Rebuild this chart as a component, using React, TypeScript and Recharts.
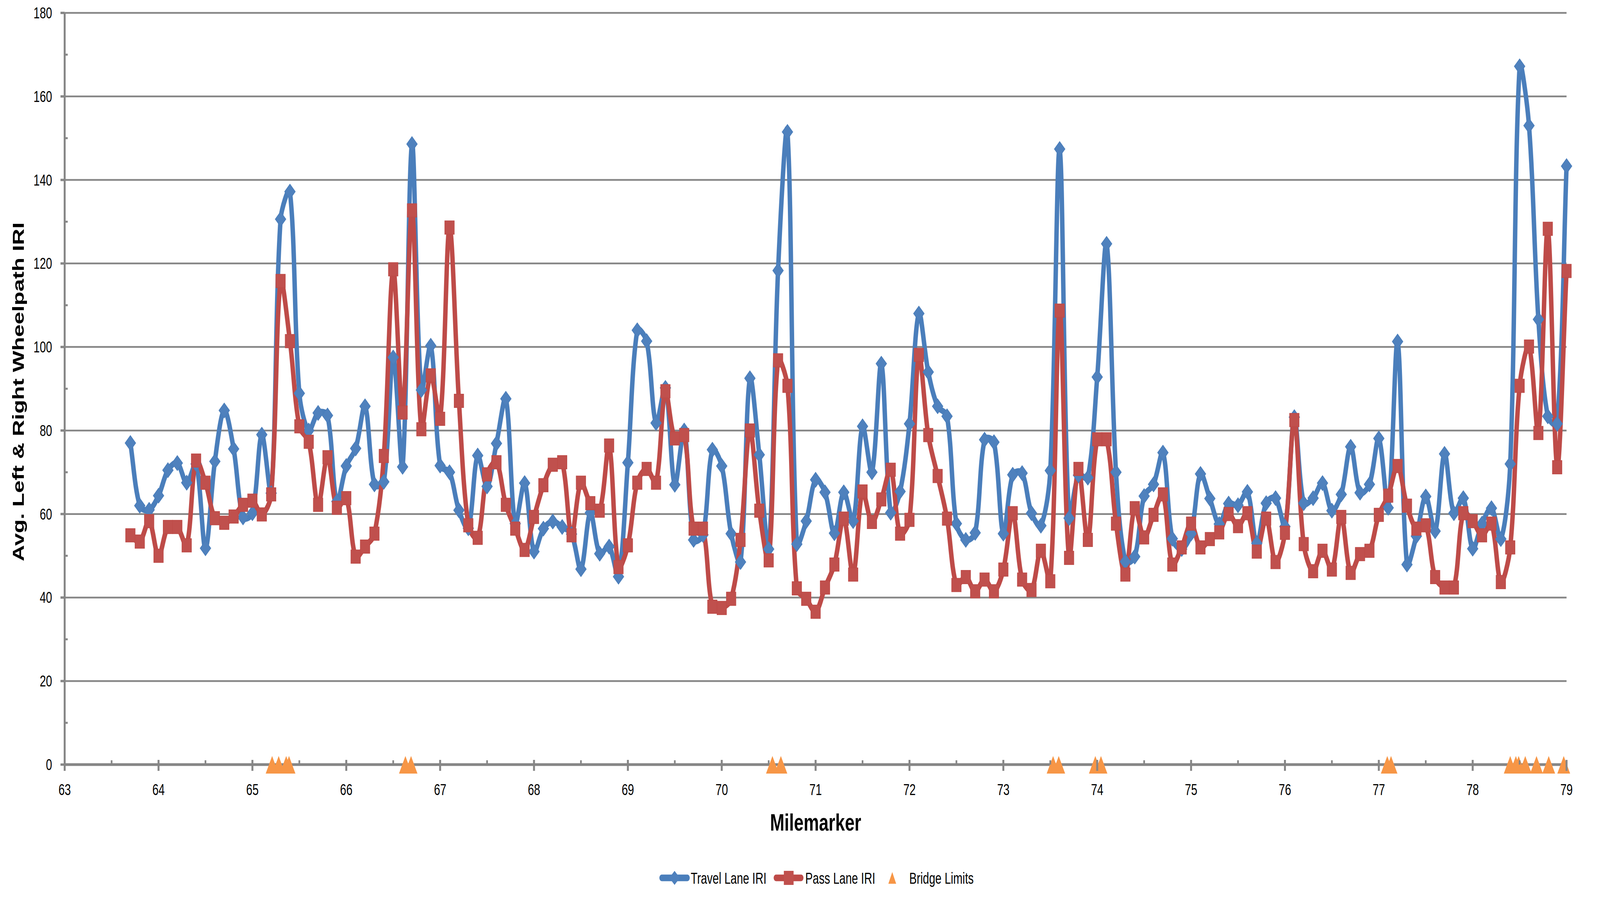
import {
  ComposedChart,
  Line,
  Scatter,
  XAxis,
  YAxis,
  CartesianGrid,
  Label,
} from "recharts";

// milemarker of each reading (every 0.1 mi)
const miles = [
  63.7, 63.8, 63.9, 64.0, 64.1, 64.2, 64.3, 64.4, 64.5, 64.6,
  64.7, 64.8, 64.9, 65.0, 65.1, 65.2, 65.3, 65.4, 65.5, 65.6,
  65.7, 65.8, 65.9, 66.0, 66.1, 66.2, 66.3, 66.4, 66.5, 66.6,
  66.7, 66.8, 66.9, 67.0, 67.1, 67.2, 67.3, 67.4, 67.5, 67.6,
  67.7, 67.8, 67.9, 68.0, 68.1, 68.2, 68.3, 68.4, 68.5, 68.6,
  68.7, 68.8, 68.9, 69.0, 69.1, 69.2, 69.3, 69.4, 69.5, 69.6,
  69.7, 69.8, 69.9, 70.0, 70.1, 70.2, 70.3, 70.4, 70.5, 70.6,
  70.7, 70.8, 70.9, 71.0, 71.1, 71.2, 71.3, 71.4, 71.5, 71.6,
  71.7, 71.8, 71.9, 72.0, 72.1, 72.2, 72.3, 72.4, 72.5, 72.6,
  72.7, 72.8, 72.9, 73.0, 73.1, 73.2, 73.3, 73.4, 73.5, 73.6,
  73.7, 73.8, 73.9, 74.0, 74.1, 74.2, 74.3, 74.4, 74.5, 74.6,
  74.7, 74.8, 74.9, 75.0, 75.1, 75.2, 75.3, 75.4, 75.5, 75.6,
  75.7, 75.8, 75.9, 76.0, 76.1, 76.2, 76.3, 76.4, 76.5, 76.6,
  76.7, 76.8, 76.9, 77.0, 77.1, 77.2, 77.3, 77.4, 77.5, 77.6,
  77.7, 77.8, 77.9, 78.0, 78.1, 78.2, 78.3, 78.4, 78.5, 78.6,
  78.7, 78.8, 78.9, 79.0,
];

const travelLaneIri = [
  77.0, 62.0, 61.0, 64.4, 70.5, 72.2, 67.5, 72.0, 51.8, 72.6,
  84.8, 75.6, 59.2, 60.2, 79.0, 65.0, 130.6, 137.2, 88.9, 80.0,
  84.2, 83.6, 63.0, 71.5, 75.7, 85.8, 67.1, 67.7, 97.5, 71.3,
  148.6, 89.7, 100.3, 71.6, 70.0, 60.9, 56.6, 74.0, 66.6, 76.9,
  87.6, 57.7, 67.4, 51.0, 56.5, 58.2, 56.9, 55.2, 46.8, 60.3,
  50.5, 52.2, 45.0, 72.3, 104.0, 101.4, 81.8, 90.2, 67.0, 80.0,
  53.8, 55.0, 75.4, 71.5, 55.3, 48.5, 92.5, 74.2, 51.6, 118.3,
  151.5, 52.8, 58.3, 68.2, 65.2, 55.4, 65.2, 58.3, 81.0, 70.0,
  96.0, 60.3, 65.4, 81.6, 108.0, 94.0, 85.8, 83.4, 57.7, 53.8,
  55.5, 77.8, 77.2, 55.3, 69.4, 69.8, 60.2, 57.2, 70.4, 147.4,
  59.0, 69.3, 68.7, 92.8, 124.7, 70.0, 48.6, 49.8, 64.3, 67.1,
  74.7, 54.1, 51.6, 55.3, 69.6, 63.7, 57.6, 62.5, 62.1, 65.3,
  53.0, 62.6, 63.8, 57.0, 83.2, 62.6, 63.8, 67.4, 60.8, 64.7,
  76.1, 65.1, 67.1, 78.1, 61.5, 101.3, 47.9, 54.7, 64.2, 55.9,
  74.4, 60.2, 63.8, 51.7, 57.7, 61.4, 54.0, 72.0, 167.2, 153.0,
  106.6, 83.4, 81.6, 143.3,
];

const passLaneIri = [
  54.9, 53.4, 58.3, 50.0, 56.9, 56.9, 52.5, 72.8, 67.5, 59.0,
  57.9, 59.4, 62.2, 63.2, 59.9, 64.7, 115.8, 101.4, 81.0, 77.3,
  62.2, 73.6, 61.5, 63.8, 49.8, 52.2, 55.3, 73.9, 118.6, 84.3,
  132.7, 80.3, 93.2, 82.8, 128.6, 87.1, 57.3, 54.3, 69.5, 72.4,
  62.2, 56.5, 51.4, 59.3, 66.9, 71.8, 72.4, 54.9, 67.5, 62.6,
  60.8, 76.4, 47.3, 52.5, 67.5, 70.8, 67.5, 89.4, 78.1, 78.9,
  56.5, 56.5, 37.8, 37.5, 39.7, 53.8, 80.0, 60.8, 48.9, 96.8,
  90.7, 42.2, 39.7, 36.6, 42.4, 47.9, 58.9, 45.5, 65.4, 58.1,
  63.5, 70.6, 55.3, 58.6, 98.1, 78.9, 69.1, 58.9, 43.0, 44.9,
  41.5, 44.3, 41.5, 46.7, 60.2, 44.3, 41.8, 51.2, 43.9, 108.7,
  49.5, 70.8, 53.8, 77.9, 77.9, 57.7, 45.5, 61.4, 54.4, 59.8,
  64.7, 47.9, 52.0, 57.7, 52.0, 54.0, 55.6, 60.0, 57.1, 60.2,
  51.0, 58.9, 48.5, 55.5, 82.5, 52.8, 46.3, 51.2, 46.7, 59.3,
  45.9, 50.4, 51.2, 59.8, 64.4, 71.5, 62.0, 56.5, 57.3, 44.9,
  42.4, 42.4, 60.2, 58.3, 54.9, 57.7, 43.7, 52.0, 90.7, 100.1,
  79.4, 128.3, 71.2, 118.2,
];

// bridge begin/end milemarkers, plotted on the zero line
const bridgeLimits = [
  65.21, 65.28, 65.36, 65.39, 66.63, 66.69, 70.54, 70.63, 73.53, 73.59,
  73.98, 74.04, 77.09, 77.13, 78.4, 78.46, 78.49, 78.56, 78.68, 78.81,
  78.97,
];

const xTicks = [
  63, 63.5, 64, 64.5, 65, 65.5, 66, 66.5, 67, 67.5, 68, 68.5, 69, 69.5,
  70, 70.5, 71, 71.5, 72, 72.5, 73, 73.5, 74, 74.5, 75, 75.5, 76, 76.5,
  77, 77.5, 78, 78.5, 79,
];
const yTicks = [0, 10, 20, 30, 40, 50, 60, 70, 80, 90, 100, 110, 120, 130, 140, 150, 160, 170, 180];
const gridValues = [20, 40, 60, 80, 100, 120, 140, 160, 180];

const travelData = miles.map((mile, i) => ({ mile, iri: travelLaneIri[i] }));
const passData = miles.map((mile, i) => ({ mile, iri: passLaneIri[i] }));
const bridgeData = bridgeLimits.map((mile) => ({ mile, iri: 0 }));

const W = 5740;
const H = 2342;

const BLUE = "#4A7EBB";
const BLUE_FILL = "#4F81BD";
const RED = "#BE4B48";
const RED_FILL = "#C0504D";
const ORANGE = "#F79646";
const AXIS = "#868686";
const FONT = "'Liberation Sans', Arial, sans-serif";

// Excel-style smoothed line: cardinal bezier with tangents scaled by chord length
const excelSmooth = (context: any) => {
  let pts: number[][] = [];
  const dist = (a: number[], b: number[]) => Math.hypot(b[0] - a[0], b[1] - a[1]);
  return {
    areaStart() {},
    areaEnd() {},
    lineStart() {
      pts = [];
    },
    point(x: number, y: number) {
      pts.push([+x, +y]);
    },
    lineEnd() {
      if (!pts.length) return;
      context.moveTo(pts[0][0], pts[0][1]);
      for (let i = 0; i < pts.length - 1; i++) {
        const p0 = pts[i - 1] || pts[i];
        const p1 = pts[i];
        const p2 = pts[i + 1];
        const p3 = pts[i + 2] || p2;
        const d01 = dist(p0, p1);
        const d12 = dist(p1, p2);
        const d23 = dist(p2, p3);
        const f1 = d01 + d12 > 0 ? d12 / (3 * (d01 + d12)) : 0;
        const f2 = d12 + d23 > 0 ? d12 / (3 * (d12 + d23)) : 0;
        context.bezierCurveTo(
          p1[0] + (p2[0] - p0[0]) * f1,
          p1[1] + (p2[1] - p0[1]) * f1,
          p2[0] - (p3[0] - p1[0]) * f2,
          p2[1] - (p3[1] - p1[1]) * f2,
          p2[0],
          p2[1]
        );
      }
    },
  };
};

const diamondDot = (props: any) => {
  const { cx, cy, index } = props;
  if (cx == null || cy == null) return <g key={`td-${index}`} />;
  const r = 19;
  return (
    <polygon
      key={`td-${index}`}
      points={`${cx},${cy - r} ${cx + r},${cy} ${cx},${cy + r} ${cx - r},${cy}`}
      fill={BLUE_FILL}
      stroke={BLUE}
      strokeWidth={2}
    />
  );
};

const squareDot = (props: any) => {
  const { cx, cy, index } = props;
  if (cx == null || cy == null) return <g key={`ps-${index}`} />;
  const h = 17;
  return (
    <rect
      key={`ps-${index}`}
      x={cx - h}
      y={cy - h}
      width={h * 2}
      height={h * 2}
      fill={RED_FILL}
      stroke={RED}
      strokeWidth={2}
    />
  );
};

const triangleShape = (props: any) => {
  const { cx, cy } = props;
  return (
    <polygon
      points={`${cx},${cy - 22} ${cx + 23},${cy + 23} ${cx - 23},${cy + 23}`}
      fill={ORANGE}
    />
  );
};

const XTick = (props: any) => {
  const { x, y, payload } = props;
  const v = payload.value;
  const major = Math.abs(v - Math.round(v)) < 1e-6;
  if (!major) {
    return <line x1={x} x2={x} y1={y - 11} y2={y} stroke={AXIS} strokeWidth={6} />;
  }
  return (
    <g>
      <line x1={x} x2={x} y1={y - 12} y2={y + 16} stroke={AXIS} strokeWidth={7} />
      <text x={x} y={y + 78} textAnchor="middle" fontSize={40} fontFamily={FONT} fill="#000">
        {v}
      </text>
    </g>
  );
};

const YTick = (props: any) => {
  const { x, y, payload } = props;
  const v = payload.value;
  if (v % 20 !== 0) {
    return <line x1={x} x2={x + 11} y1={y} y2={y} stroke={AXIS} strokeWidth={5} />;
  }
  return (
    <g>
      <line x1={x - 15} x2={x} y1={y} y2={y} stroke={AXIS} strokeWidth={6} />
      <text x={x - 45} y={y + 14} textAnchor="end" fontSize={40} fontFamily={FONT} fill="#000">
        {v}
      </text>
    </g>
  );
};

const Legend = () => (
  <svg
    width={W}
    height={H}
    style={{ position: "absolute", left: 0, top: 0, pointerEvents: "none" }}
  >
    <g fontFamily={FONT} fontSize={40} fill="#000">
      <line x1={2374} x2={2466} y1={2247} y2={2247} stroke={BLUE} strokeWidth={17} strokeLinecap="round" />
      <polygon points="2420,2229 2439,2247 2420,2265 2401,2247" fill={BLUE_FILL} />
      <text x={2478} y={2262}>Travel Lane IRI</text>

      <line x1={2784} x2={2874} y1={2247} y2={2247} stroke={RED} strokeWidth={17} strokeLinecap="round" />
      <rect x={2812} y={2229} width={35} height={36} fill={RED_FILL} />
      <text x={2889} y={2262}>Pass Lane IRI</text>

      <polygon points="3201,2232 3215,2262 3187,2262" fill={ORANGE} />
      <text x={3262} y={2262}>Bridge Limits</text>
    </g>
  </svg>
);

export default function App() {
  // the browser may give a narrower window than the chart; squeeze it to fit
  const sx = Math.min(1, window.innerWidth / W);
  const sy = Math.min(1, window.innerHeight / H);
  return (
    <div
      style={{
        position: "fixed",
        left: 0,
        top: 0,
        width: "100vw",
        height: "100vh",
        overflow: "hidden",
        background: "#fff",
      }}
    >
      <div
        style={{
          position: "absolute",
          left: 0,
          top: 0,
          width: W,
          height: H,
          transform: `scale(${sx}, ${sy})`,
          transformOrigin: "0 0",
        }}
      >
        <ComposedChart
          width={W}
          height={H}
          margin={{ top: 33, right: 120, bottom: 0, left: 0 }}
        >
          <CartesianGrid
            vertical={false}
            horizontalValues={gridValues}
            stroke={AXIS}
            strokeWidth={4.5}
          />
          <XAxis
            type="number"
            dataKey="mile"
            domain={[63, 79]}
            ticks={xTicks}
            interval={0}
            height={385}
            tickSize={0}
            tickMargin={0}
            tickLine={false}
            tick={XTick}
            axisLine={{ stroke: AXIS, strokeWidth: 7 }}
          >
            <Label
              content={(p: any) => {
                const vb = p.viewBox;
                return (
                  <text
                    x={vb.x + vb.width / 2}
                    y={vb.y + 169}
                    textAnchor="middle"
                    fontSize={62}
                    fontWeight="bold"
                    fontFamily={FONT}
                    fill="#000"
                  >
                    Milemarker
                  </text>
                );
              }}
            />
          </XAxis>
          <YAxis
            type="number"
            domain={[0, 180]}
            ticks={yTicks}
            interval={0}
            width={232}
            tickSize={0}
            tickMargin={0}
            tickLine={false}
            tick={YTick}
            axisLine={{ stroke: AXIS, strokeWidth: 7 }}
          >
            <Label
              content={(p: any) => {
                const vb = p.viewBox;
                const cy = vb.y + vb.height / 2 + 8;
                return (
                  <text
                    x={86}
                    y={cy}
                    transform={`rotate(-90, 86, ${cy})`}
                    textAnchor="middle"
                    fontSize={58}
                    fontWeight="bold"
                    fontFamily={FONT}
                    fill="#000"
                  >
                    Avg. Left &amp; Right Wheelpath IRI
                  </text>
                );
              }}
            />
          </YAxis>
          <Line
            data={travelData}
            dataKey="iri"
            name="Travel Lane IRI"
            type={excelSmooth as any}
            stroke={BLUE}
            strokeWidth={16}
            strokeLinecap="round"
            strokeLinejoin="round"
            dot={diamondDot}
            activeDot={false}
            isAnimationActive={false}
          />
          <Line
            data={passData}
            dataKey="iri"
            name="Pass Lane IRI"
            type={excelSmooth as any}
            stroke={RED}
            strokeWidth={16}
            strokeLinecap="round"
            strokeLinejoin="round"
            dot={squareDot}
            activeDot={false}
            isAnimationActive={false}
          />
          <Scatter
            data={bridgeData}
            dataKey="iri"
            name="Bridge Limits"
            shape={triangleShape}
            isAnimationActive={false}
          />
        </ComposedChart>
        <Legend />
      </div>
    </div>
  );
}
